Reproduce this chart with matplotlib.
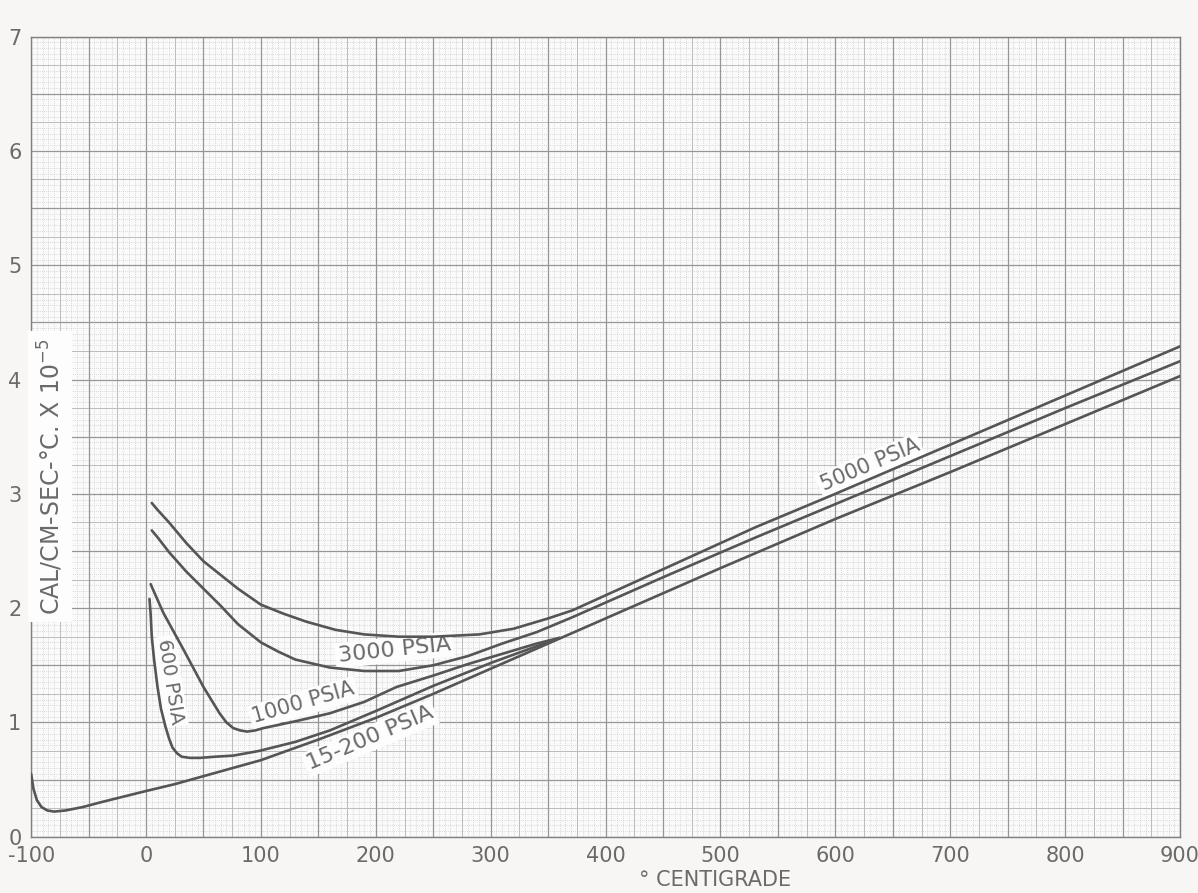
import numpy as np
from matplotlib import pyplot as plt

# temperature (deg C) and conductivity (cal/cm-sec-C x 1e-5)
temp_15_200 = [-100, -98, -95, -91, -86, -80, -70, -55, -40, -20, 0, 25, 50, 75, 100,
               150, 200, 250, 300, 350, 400, 450, 500, 600, 700, 800, 900]
cond_15_200 = [0.55, 0.42, 0.32, 0.26, 0.23, 0.22, 0.23, 0.26, 0.30, 0.35, 0.40, 0.46, 0.53, 0.60, 0.67,
               0.85, 1.04, 1.25, 1.47, 1.69, 1.91, 2.13, 2.35, 2.78, 3.19, 3.61, 4.03]

temp_600 = [3, 4, 5, 7, 10, 13, 17, 20, 23, 27, 31, 38, 47, 60, 76, 98, 130, 160, 200, 250, 300, 360]
cond_600 = [2.08, 1.95, 1.75, 1.55, 1.31, 1.12, 0.96, 0.86, 0.78, 0.73, 0.70, 0.69, 0.69, 0.70, 0.71,
            0.75, 0.83, 0.93, 1.10, 1.32, 1.52, 1.74]

temp_1000 = [4, 15, 33, 50, 64, 70, 76, 82, 88, 95, 102, 130, 160, 190, 218, 250, 280, 310, 340, 360]
cond_1000 = [2.21, 1.96, 1.63, 1.31, 1.08, 1.00, 0.95, 0.93, 0.92, 0.93, 0.95, 1.01, 1.08, 1.18, 1.31,
             1.41, 1.51, 1.60, 1.69, 1.74]

temp_3000 = [5, 10, 20, 35, 50, 65, 80, 100, 115, 130, 160, 190, 220, 250, 280, 310, 340, 371,
             450, 531, 600, 700, 800, 900]
cond_3000 = [2.68, 2.62, 2.49, 2.32, 2.17, 2.02, 1.86, 1.70, 1.62, 1.55, 1.48, 1.45, 1.45, 1.50, 1.58,
             1.69, 1.79, 1.92, 2.27, 2.62, 2.91, 3.33, 3.75, 4.16]

temp_5000 = [5, 10, 20, 35, 50, 65, 80, 100, 120, 140, 165, 190, 220, 250, 290, 320, 350, 371,
             450, 531, 600, 700, 800, 900]
cond_5000 = [2.92, 2.86, 2.75, 2.57, 2.41, 2.29, 2.17, 2.03, 1.95, 1.88, 1.81, 1.77, 1.75, 1.75, 1.77,
             1.82, 1.91, 1.98, 2.34, 2.71, 3.00, 3.43, 3.86, 4.29]

x_ticks = [-100, 0, 100, 200, 300, 400, 500, 600, 700, 800, 900]
y_ticks = [0, 1, 2, 3, 4, 5, 6, 7]

INK = "#555555"
TEXT = "#6a6a6a"
PAPER = "#fbfafa"


def draw_paper(ax):
    """Graph paper grid: fine dotted, quarter and half lines"""
    xs = np.arange(-100, 901, 5)
    ys = np.arange(0, 7.001, 0.05)
    fine_x = [v for v in xs if v % 25 != 0]
    fine_y = [v for v in ys if round(v * 100) % 25 != 0]
    ax.vlines(fine_x, 0, 7, color="#cfcfcf", lw=0.6, linestyles=(0, (1, 1.5)), zorder=1)
    ax.hlines(fine_y, -100, 900, color="#cfcfcf", lw=0.6, linestyles=(0, (1, 1.5)), zorder=1)
    ax.vlines([v for v in xs if v % 25 == 0 and v % 50 != 0], 0, 7, color="#bcbcbc", lw=0.7, zorder=1)
    ax.hlines([v for v in ys if round(v * 100) % 25 == 0 and round(v * 100) % 50 != 0], -100, 900,
              color="#bcbcbc", lw=0.7, zorder=1)
    ax.vlines([v for v in xs if v % 50 == 0], 0, 7, color="#969696", lw=0.9, zorder=1)
    ax.hlines([v for v in ys if round(v * 100) % 50 == 0], -100, 900, color="#969696", lw=0.9, zorder=1)


def main():
    plt.rcParams["axes.unicode_minus"] = False
    fig = plt.figure(figsize=(11.98, 8.93), dpi=100, facecolor="#f7f6f4")
    ax = fig.add_axes([0.026, 0.063, 0.959, 0.896], facecolor=PAPER)
    ax.set_xlim(-100, 900)
    ax.set_ylim(0, 7)
    draw_paper(ax)

    for t, k in [(temp_15_200, cond_15_200), (temp_600, cond_600), (temp_1000, cond_1000),
                 (temp_3000, cond_3000), (temp_5000, cond_5000)]:
        ax.plot(t, k, color=INK, lw=1.9, solid_capstyle="round", solid_joinstyle="round", zorder=3)

    box = dict(boxstyle="square,pad=0.12", fc="#fdfdfd", ec="none")
    ax.text(630, 3.25, "5000 PSIA", rotation=23, fontsize=15, color=TEXT,
            ha="center", va="center", rotation_mode="anchor", bbox=box, zorder=2)
    ax.text(216, 1.635, "3000 PSIA", rotation=6, fontsize=16, color=TEXT,
            ha="center", va="center", rotation_mode="anchor", bbox=box, zorder=2)
    ax.text(137, 1.17, "1000 PSIA", rotation=16, fontsize=15, color=TEXT,
            ha="center", va="center", rotation_mode="anchor", bbox=box, zorder=2)
    ax.text(195, 0.86, "15-200 PSIA", rotation=23, fontsize=16, color=TEXT,
            ha="center", va="center", rotation_mode="anchor", bbox=box, zorder=2)
    ax.text(21, 1.36, "600 PSIA", rotation=-81, fontsize=14, color=TEXT,
            ha="center", va="center", rotation_mode="anchor", bbox=box, zorder=2)

    ax.text(0.0165, 0.45, "CAL/CM-SEC-°C. X 10$^{-5}$", transform=ax.transAxes, rotation=90,
            fontsize=17, color=TEXT, ha="center", va="center",
            bbox=dict(boxstyle="square,pad=0.3", fc="#fdfdfd", ec="none"), zorder=4)

    ax.set_xticks(x_ticks)
    ax.set_yticks(y_ticks)
    ax.tick_params(length=0, labelsize=15, labelcolor=TEXT, pad=7)
    for s in ax.spines.values():
        s.set_color("#808080")
        s.set_linewidth(1.0)

    fig.text(0.597, 0.015, "° CENTIGRADE", fontsize=15, color=TEXT, ha="center", va="center")
    fig.savefig("out.png", dpi=100, facecolor=fig.get_facecolor())


if __name__ == "__main__":
    main()
